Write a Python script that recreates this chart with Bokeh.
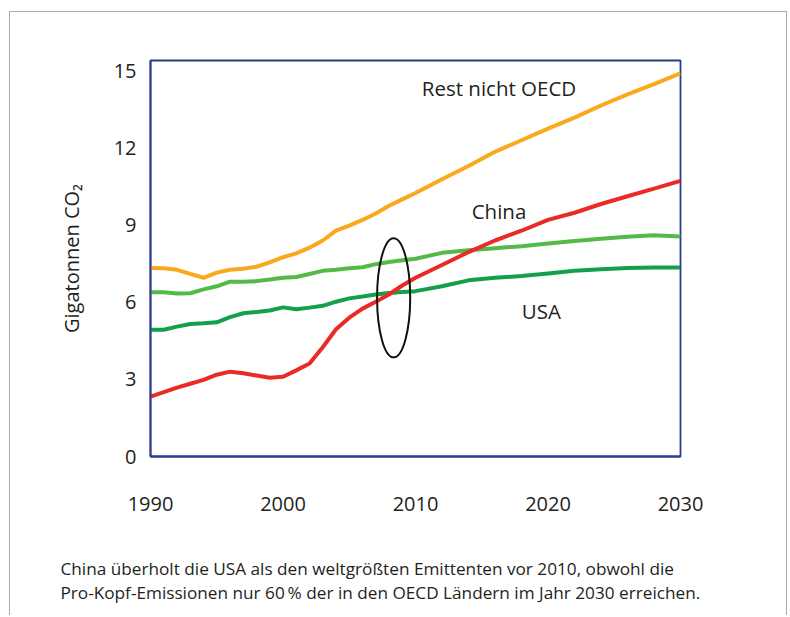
from bokeh.plotting import figure
from bokeh.models import Label, Range1d, FixedTicker, Title, InlineStyleSheet
from bokeh.embed import file_html
from bokeh.resources import INLINE

years = [1990, 1991, 1992, 1993, 1994, 1995, 1996, 1997, 1998, 1999, 2000,
         2001, 2002, 2003, 2004, 2005, 2006, 2007, 2008, 2009, 2010,
         2012, 2014, 2016, 2018, 2020, 2022, 2024, 2026, 2028, 2030]
rest_nicht_oecd = [7.33, 7.32, 7.26, 7.10, 6.95, 7.15, 7.26, 7.30, 7.38, 7.55, 7.75,
                   7.90, 8.12, 8.40, 8.78, 8.98, 9.20, 9.45, 9.75, 10.00, 10.25,
                   10.78, 11.30, 11.85, 12.30, 12.75, 13.18, 13.65, 14.08, 14.48, 14.90]
oecd_rest = [6.39, 6.39, 6.34, 6.35, 6.50, 6.62, 6.80, 6.80, 6.82, 6.88, 6.95,
             6.98, 7.10, 7.22, 7.26, 7.32, 7.36, 7.48, 7.56, 7.63, 7.69,
             7.92, 8.02, 8.10, 8.18, 8.28, 8.38, 8.47, 8.55, 8.60, 8.56]
usa = [4.93, 4.93, 5.05, 5.15, 5.18, 5.22, 5.42, 5.57, 5.62, 5.68, 5.80,
       5.73, 5.79, 5.86, 6.02, 6.15, 6.22, 6.30, 6.36, 6.40, 6.43,
       6.62, 6.85, 6.95, 7.02, 7.12, 7.22, 7.28, 7.33, 7.35, 7.35]
china = [2.33, 2.50, 2.68, 2.83, 2.98, 3.18, 3.30, 3.24, 3.15, 3.06, 3.10,
         3.35, 3.62, 4.25, 4.95, 5.40, 5.75, 6.02, 6.30, 6.65, 6.95,
         7.45, 7.95, 8.40, 8.78, 9.20, 9.48, 9.82, 10.12, 10.42, 10.72]

x_ticks = [1990, 2000, 2010, 2020, 2030]
y_ticks = [0, 3, 6, 9, 12, 15]

series_labels = ["Rest nicht OECD", "China", "USA"]
label_x = [2016.3, 2016.3, 2019.5]
label_y = [14.32, 9.53, 5.64]

ellipse_x = 2008.35
ellipse_y = 6.17
ellipse_w = 2.5
ellipse_h = 4.63

caption = ["China überholt die USA als den weltgrößten Emittenten vor 2010, obwohl die",
           "Pro-Kopf-Emissionen nur 60\u2009% der in den OECD Ländern im Jahr 2030 erreichen."]

FONT = "Open Sans"
NAVY = "#2B3A8A"
TXT = "#231F20"

p = figure(width=788, height=615, output_backend="svg", toolbar_location=None,
           x_range=Range1d(1990, 2030), y_range=Range1d(0, 15.4),
           min_border_left=150, min_border_top=60, min_border_right=108,
           min_border_bottom=159)
p.background_fill_color = "white"
p.border_fill_color = "white"
p.grid.visible = False
p.outline_line_color = NAVY
p.outline_line_width = 1.8

for ax in (p.xaxis[0], p.yaxis[0]):
    ax.axis_line_color = NAVY
    ax.axis_line_width = 1.8
    ax.major_tick_line_color = None
    ax.minor_tick_line_color = None
    ax.major_label_text_font = FONT
    ax.major_label_text_font_size = "20px"
    ax.major_label_text_color = TXT

p.xaxis.ticker = FixedTicker(ticks=x_ticks)
p.yaxis.ticker = FixedTicker(ticks=y_ticks)
p.xaxis.major_label_standoff = 34
p.yaxis.major_label_standoff = 8
p.yaxis.axis_label = "Gigatonnen CO\u2082"
p.yaxis.axis_label_text_font = FONT
p.yaxis.axis_label_text_font_size = "20px"
p.yaxis.axis_label_text_font_style = "normal"
p.yaxis.axis_label_text_color = TXT
p.yaxis.axis_label_standoff = 26

p.line(years, rest_nicht_oecd, line_color="#F8A91E", line_width=4)
p.line(years, oecd_rest, line_color="#55B947", line_width=4)
p.line(years, usa, line_color="#13A04A", line_width=4)
p.line(years, china, line_color="#EA2B25", line_width=4)

p.ellipse(x=[ellipse_x], y=[ellipse_y], width=[ellipse_w], height=[ellipse_h],
          fill_alpha=0, line_color="#111111", line_width=2)

for t, lx, ly in zip(series_labels, label_x, label_y):
    p.add_layout(Label(x=lx, y=ly, text=t, text_font=FONT, text_font_size="20.5px",
                       text_align="center", text_baseline="middle", text_color=TXT))

# spacer between the year labels and the caption
p.add_layout(Title(text=" ", standoff=38, text_font_size="1px"), "below")
p.add_layout(Title(text="\n".join(caption), align="left", offset=-90, standoff=0,
                   text_font=FONT, text_font_size="17.2px", text_font_style="normal",
                   text_line_height=1.07, text_color=TXT), "below")

# thin grey page frame around the whole figure (open at the bottom)
p.stylesheets = [InlineStyleSheet(css=(
    ":host::after { content: ''; position: absolute; left: 9px; top: 11px; "
    "width: 778px; height: 604px; box-sizing: border-box; "
    "border: 1.5px solid #AAAAAA; border-bottom: none; pointer-events: none; }"
))]

open("out.html", "w").write(file_html(p, INLINE))
